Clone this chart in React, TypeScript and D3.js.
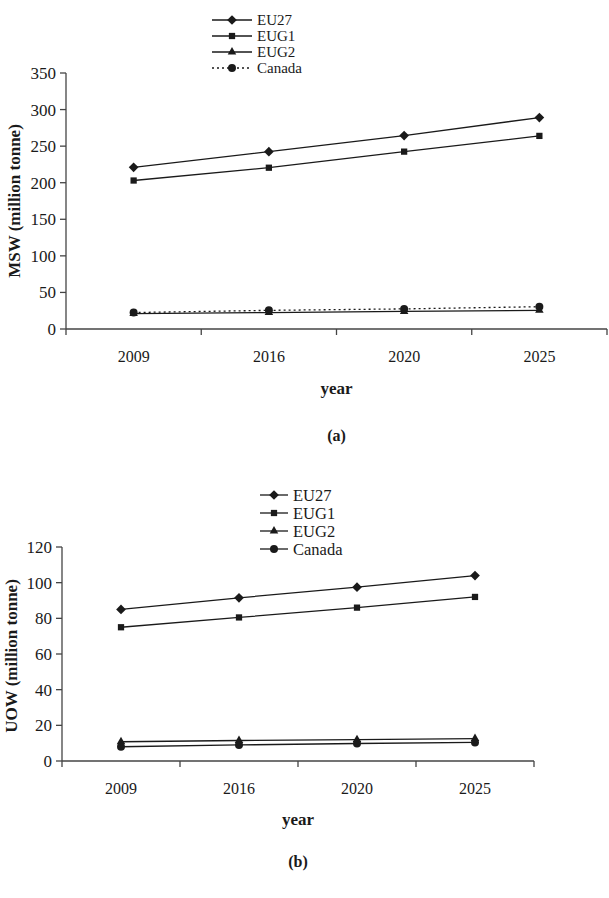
import React from "react";
import * as d3 from "d3";

const years = ["2009", "2016", "2020", "2025"];

// Panel (a): municipal solid waste, million tonne
const mswEU27 = [221, 242.5, 264.5, 289];
const mswEUG1 = [203, 220.5, 242.5, 264];
const mswEUG2 = [21, 22.5, 24, 25.5];
const mswCanada = [22.5, 25.5, 27.5, 30.5];
const mswTicks = [0, 50, 100, 150, 200, 250, 300, 350];

// Panel (b): used oil waste, million tonne
const uowEU27 = [85, 91.5, 97.5, 104];
const uowEUG1 = [75, 80.5, 86, 92];
const uowEUG2 = [10.8, 11.5, 12, 12.6];
const uowCanada = [8, 9, 9.8, 10.4];
const uowTicks = [0, 20, 40, 60, 80, 100, 120];

const seriesNames = ["EU27", "EUG1", "EUG2", "Canada"];
const markerTypes = [d3.symbolDiamond2, d3.symbolSquare2, d3.symbolTriangle2, d3.symbolCircle];

const FONT = "Liberation Serif, Times New Roman, serif";
const INK = "#1a1a1a";
const AXIS = "#444";

type PanelProps = {
  series: number[][];
  ticks: number[];
  yMax: number;
  x0: number;
  x1: number;
  yTop: number;
  yBottom: number;
  yTitle: string;
  yTitleX: number;
  yTitleY: number;
  xTitleY: number;
  tickLabelY: number;
  capTitle: string;
  capY: number;
  legendX: number;
  legendY: number;
  legendStep: number;
  legendLen: number;
  legendFont: number;
  dottedLast: boolean;
};

function Marker({ type, x, y }: { type: number; x: number; y: number }) {
  const sizes = [60, 50, 52, 50];
  const path = d3.symbol().type(markerTypes[type]).size(sizes[type])()!;
  return <path d={path} transform={`translate(${x},${y})`} fill={INK} />;
}

function Panel(p: PanelProps) {
  const x = d3.scaleBand<string>().domain(years).range([p.x0, p.x1]).padding(0);
  const y = d3.scaleLinear().domain([0, p.yMax]).range([p.yBottom, p.yTop]);
  const cx = (d: string) => (x(d) as number) + x.bandwidth() / 2;
  const line = d3
    .line<number>()
    .x((_, i) => cx(years[i]))
    .y((v) => y(v));
  const boundaries = years.map((d) => x(d) as number).concat([p.x1]);
  const midX = (p.x0 + p.x1) / 2;

  return (
    <g fontFamily={FONT}>
      {/* y axis */}
      <line x1={p.x0} x2={p.x0} y1={p.yTop} y2={p.yBottom} stroke={AXIS} strokeWidth={1.3} />
      {p.ticks.map((t) => (
        <g key={t}>
          <line x1={p.x0 - 6} x2={p.x0} y1={y(t)} y2={y(t)} stroke={AXIS} strokeWidth={1.3} />
          <text x={p.x0 - 10} y={y(t)} dy="0.35em" textAnchor="end" fontSize={17} fill={INK}>
            {t}
          </text>
        </g>
      ))}
      {/* x axis */}
      <line x1={p.x0} x2={p.x1} y1={p.yBottom} y2={p.yBottom} stroke={AXIS} strokeWidth={1.3} />
      {boundaries.map((b, i) => (
        <line key={i} x1={b} x2={b} y1={p.yBottom} y2={p.yBottom + 6} stroke={AXIS} strokeWidth={1.3} />
      ))}
      {years.map((d) => (
        <text key={d} x={cx(d)} y={p.tickLabelY} dy="0.35em" textAnchor="middle" fontSize={16} fill={INK}>
          {d}
        </text>
      ))}
      <text x={midX} y={p.xTitleY} dy="0.35em" textAnchor="middle" fontSize={17} fontWeight="bold" fill={INK}>
        year
      </text>
      <text x={midX} y={p.capY} dy="0.35em" textAnchor="middle" fontSize={16} fontWeight="bold" fill={INK}>
        {p.capTitle}
      </text>
      <text
        transform={`translate(${p.yTitleX},${p.yTitleY}) rotate(-90)`}
        dy="0.35em"
        textAnchor="middle"
        fontSize={17}
        fontWeight="bold"
        fill={INK}
      >
        {p.yTitle}
      </text>

      {/* series */}
      {p.series.map((vals, si) => (
        <g key={si}>
          <path
            d={line(vals) as string}
            fill="none"
            stroke={INK}
            strokeWidth={1.3}
            strokeDasharray={p.dottedLast && si === 3 ? "2,3" : undefined}
          />
          {vals.map((v, i) => (
            <Marker key={i} type={si} x={cx(years[i])} y={y(v)} />
          ))}
        </g>
      ))}

      {/* legend */}
      {seriesNames.map((n, si) => {
        const ly = p.legendY + si * p.legendStep;
        return (
          <g key={n}>
            <line
              x1={p.legendX}
              x2={p.legendX + p.legendLen}
              y1={ly}
              y2={ly}
              stroke={INK}
              strokeWidth={1.3}
              strokeDasharray={p.dottedLast && si === 3 ? "2,3" : undefined}
            />
            <Marker type={si} x={p.legendX + p.legendLen / 2} y={ly} />
            <text x={p.legendX + p.legendLen + 5} y={ly} dy="0.35em" fontSize={p.legendFont} fill={INK}>
              {n}
            </text>
          </g>
        );
      })}
    </g>
  );
}

export default function App() {
  return (
    <svg
      width={609}
      height={898}
      style={{ position: "absolute", left: 0, top: 0, background: "#fff" }}
    >
      <rect width={609} height={898} fill="#fff" />
      <Panel
        series={[mswEU27, mswEUG1, mswEUG2, mswCanada]}
        ticks={mswTicks}
        yMax={350}
        x0={66}
        x1={607}
        yTop={73}
        yBottom={329}
        yTitle="MSW (million tonne)"
        yTitleX={14}
        yTitleY={201}
        xTitleY={388}
        tickLabelY={356}
        capTitle="(a)"
        capY={435}
        legendX={212}
        legendY={20}
        legendStep={16}
        legendLen={40}
        legendFont={15}
        dottedLast={true}
      />
      <Panel
        series={[uowEU27, uowEUG1, uowEUG2, uowCanada]}
        ticks={uowTicks}
        yMax={120}
        x0={62}
        x1={534}
        yTop={547}
        yBottom={761}
        yTitle="UOW (million tonne)"
        yTitleX={11}
        yTitleY={656}
        xTitleY={819}
        tickLabelY={788}
        capTitle="(b)"
        capY={861}
        legendX={260}
        legendY={495}
        legendStep={18}
        legendLen={28}
        legendFont={16.5}
        dottedLast={false}
      />
    </svg>
  );
}
